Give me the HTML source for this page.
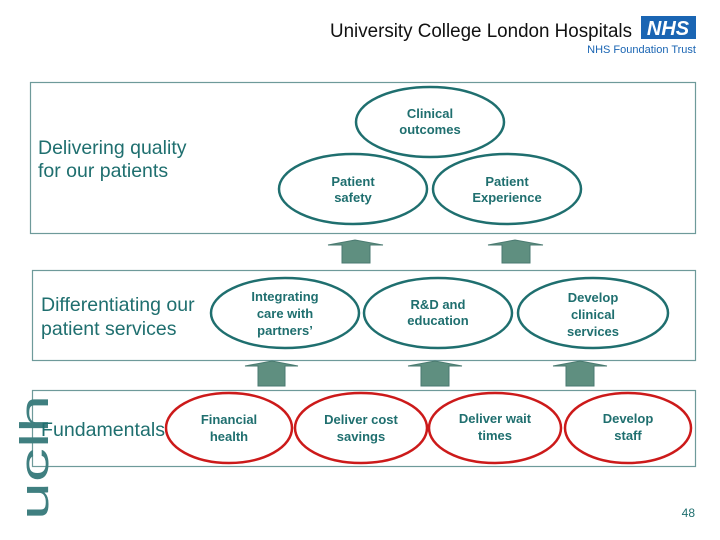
<!DOCTYPE html>
<html><head><meta charset="utf-8"><style>
body{margin:0;background:#fff;}
svg{display:block;}
text{font-family:"Liberation Sans",Arial,sans-serif;}
.b{font-weight:bold;font-size:13px;fill:#1f6f6f;text-anchor:middle;}
.l{font-size:19.5px;fill:#1f6f6f;}
</style></head><body>
<svg width="720" height="540" viewBox="0 0 720 540">
<text x="330" y="37" font-size="19" fill="#111" textLength="302" lengthAdjust="spacingAndGlyphs">University College London Hospitals</text>
<rect x="641" y="16" width="55" height="23" fill="#1a65b3"/>
<text x="668" y="35" font-size="20" font-weight="bold" font-style="italic" fill="#fff" text-anchor="middle">NHS</text>
<text x="696" y="53" font-size="11" fill="#1a65b3" text-anchor="end">NHS Foundation Trust</text>

<g fill="none" stroke="#6e9a9a" stroke-width="1.2">
<rect x="30.5" y="82.5" width="665" height="151"/>
<rect x="32.5" y="270.5" width="663" height="90"/>
<rect x="32.5" y="390.5" width="663" height="76"/>
</g>

<text transform="translate(48,520) rotate(-90)" font-size="40" fill="#3f7f80" textLength="125" lengthAdjust="spacingAndGlyphs">uclh</text>

<text class="l" x="38" y="154">Delivering quality</text>
<text class="l" x="38" y="177">for our patients</text>
<text class="l" x="41" y="311">Differentiating our</text>
<text class="l" x="41" y="335">patient services</text>
<text class="l" x="41" y="436" textLength="124" lengthAdjust="spacingAndGlyphs">Fundamentals</text>

<g fill="#5f8f80" stroke="#4a7a70" stroke-width="1">
<polygon points="328,245 355,240 383,245 370,245 370,263 342,263 342,245"/>
<polygon points="488,245 515,240 543,245 530,245 530,263 502,263 502,245"/>
<polygon points="245,366 272,361 298,366 285,366 285,386 258,386 258,366"/>
<polygon points="408,366 435,361 462,366 449,366 449,386 421,386 421,366"/>
<polygon points="553,366 580,361 607,366 594,366 594,386 566,386 566,366"/>
</g>

<g fill="#fff" stroke="#1f6f6f" stroke-width="2.5">
<ellipse cx="430" cy="122" rx="74" ry="35"/>
<ellipse cx="353" cy="189" rx="74" ry="35"/>
<ellipse cx="507" cy="189" rx="74" ry="35"/>
<ellipse cx="285" cy="313" rx="74" ry="35"/>
<ellipse cx="438" cy="313" rx="74" ry="35"/>
<ellipse cx="593" cy="313" rx="75" ry="35"/>
</g>
<g fill="#fff" stroke="#cc1a1a" stroke-width="2.5">
<ellipse cx="229" cy="428" rx="63" ry="35"/>
<ellipse cx="361" cy="428" rx="66" ry="35"/>
<ellipse cx="495" cy="428" rx="66" ry="35"/>
<ellipse cx="628" cy="428" rx="63" ry="35"/>
</g>

<text class="b" x="430" y="118">Clinical</text><text class="b" x="430" y="134">outcomes</text>
<text class="b" x="353" y="186">Patient</text><text class="b" x="353" y="202">safety</text>
<text class="b" x="507" y="186">Patient</text><text class="b" x="507" y="202">Experience</text>
<text class="b" x="285" y="301">Integrating</text><text class="b" x="285" y="318">care with</text><text class="b" x="285" y="335">partners’</text>
<text class="b" x="438" y="309">R&amp;D and</text><text class="b" x="438" y="325">education</text>
<text class="b" x="593" y="302">Develop</text><text class="b" x="593" y="319">clinical</text><text class="b" x="593" y="336">services</text>
<text class="b" x="229" y="424">Financial</text><text class="b" x="229" y="441">health</text>
<text class="b" x="361" y="424">Deliver cost</text><text class="b" x="361" y="441">savings</text>
<text class="b" x="495" y="423">Deliver wait</text><text class="b" x="495" y="440">times</text>
<text class="b" x="628" y="423">Develop</text><text class="b" x="628" y="440">staff</text>

<text x="695" y="517" font-size="12" fill="#1f6f6f" text-anchor="end">48</text>
</svg>
</body></html>
